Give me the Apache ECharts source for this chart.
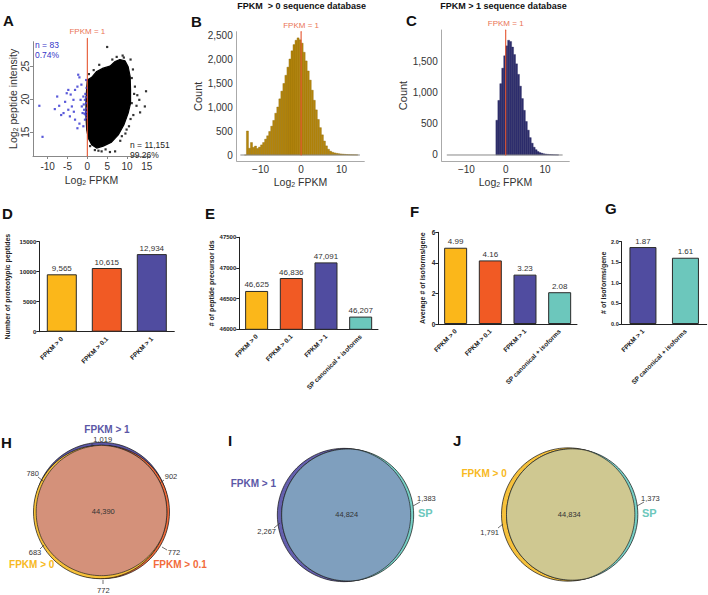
<!DOCTYPE html>
<html>
<head>
<meta charset="utf-8">
<script src="https://cdn.jsdelivr.net/npm/echarts@6/dist/echarts.min.js"></script>
<style>html,body{margin:0;padding:0;background:#fff}#main{width:708px;height:595px}</style>
</head>
<body>
<div id="main"></div>
<script>
// ---- A: scatter ----
var blueDots = [[-12.1,19.0],[-11.3,14.3],[-8.2,18.5],[-7.1,19.0],[-7.6,20.4],[-6.6,17.6],[-5.2,20.9],[-4.8,21.4],[-4.2,20.7],[-5.6,19.6],[-4.8,18.4],[-4.4,17.4],[-3.9,18.9],[-3.5,19.9],[-3.1,21.4],[-2.5,21.9],[-2.3,23.7],[-2.0,23.3],[-1.7,19.9],[-1.4,18.9],[-1.2,17.9],[-1.0,20.4],[-2.0,16.3],[-2.5,15.6],[-0.6,16.9],[-0.8,18.4],[-0.3,19.4],[-0.6,19.9],[-0.3,22.9],[-0.2,21.7],[-1.0,15.9],[-0.4,17.6],[-0.2,18.1],[-0.2,18.6],[-3.4,18.1],[-3.1,16.9],[-6.0,17.9],[-0.5,20.8],[-1.5,22.2],[-0.9,19.2],[-0.35,18.0],[-0.15,17.2],[-0.7,17.8],[-0.25,20.3]];
var blackDots = [[5.0,27.9],[7.8,25.5],[10.9,26.0],[11.2,23.2],[12.0,21.9],[13.1,19.9],[14.5,18.9],[14.8,21.2],[13.3,18.0],[12.6,20.6],[11.2,19.4],[11.6,17.6],[3.6,12.1],[5.7,12.0],[7.0,12.1],[1.9,12.3],[0.7,12.9],[9.9,15.4],[8.7,14.4],[9.2,26.3],[6.3,26.0],[10.5,15.9],[11.5,24.5],[11.8,20.8],[10.9,17.0],[8.9,26.6],[7.4,26.4],[3.0,25.2],[1.6,24.4],[0.4,23.8],[4.6,12.4],[2.8,12.2],[8.3,13.7],[9.6,14.8],[12.4,19.0]];
var cloudOutline = [[0,22.9],[1.1,23.3],[2.35,24.2],[4.0,24.7],[5.7,25.0],[7.0,25.7],[8.2,26.0],[9.5,25.8],[10.3,24.9],[10.8,23.4],[10.9,21.4],[10.9,19.4],[10.3,17.9],[9.2,16.1],[7.8,14.6],[6.1,13.5],[4.0,12.9],[2.35,12.6],[1.1,13.1],[0.25,14.1],[-0.17,15.4],[-0.34,17.4],[-0.34,19.9],[-0.17,21.7]];
var countBlue = 83, pctBlue = '0.74%';
var countBlack = 11151, pctBlack = '99.26%';

// ---- B, C: histograms (bin width 0.5) ----
var histBStart = -14, histBWidth = 0.5;
var histB = [0,500,140,260,160,185,135,165,210,260,330,400,490,600,720,870,1000,1170,1330,1490,1660,1830,2000,2170,2300,2390,2440,2400,2330,2140,1960,1750,1560,1350,1140,940,740,570,420,290,190,120,80,58,44,35,28,22,18,14,10,7,5,4,3,2];
var histCStart = -2.5, histCWidth = 0.5;
var histC = [560,880,1150,1400,1600,1760,1850,1830,1740,1620,1470,1300,1110,910,720,540,400,280,190,125,85,55,38,27,19,14,10,7,5,3,2,1];
var histRange = [-15, 14.5];

// ---- D-G: bars ----
var catD = ['FPKM > 0', 'FPKM > 0.1', 'FPKM > 1'];
var valD = [9565, 10615, 12934];
var catE = ['FPKM > 0', 'FPKM > 0.1', 'FPKM > 1', 'SP canonical + isoforms'];
var valE = [46625, 46836, 47091, 46207];
var catF = ['FPKM > 0', 'FPKM > 0.1', 'FPKM > 1', 'SP canonical + isoforms'];
var valF = [4.99, 4.16, 3.23, 2.08];
var catG = ['FPKM > 1', 'SP canonical + isoforms'];
var valG = [1.87, 1.61];
var dbColor = {'FPKM > 0':'#FBB71A', 'FPKM > 0.1':'#F15A24', 'FPKM > 1':'#504CA0', 'SP canonical + isoforms':'#6CC7BC'};

// ---- H-J: Venn circles [cx, cy, r] in units of the shared radius ----
var vennH = [[0,0.03,1.0],[0.02,-0.015,1.0],[-0.02,-0.015,1.0]];
var vennHColors = ['#5B57A6','#F26B3A','#F8C23A'];
var vennHCounts = [1019, 780, 902, 44390, 683, 772, 772];
var vennI = [[-0.03,0,1.0],[0.025,0,0.99]];
var vennIColors = ['#6560AE','#77D0C6'];
var vennICounts = [2267, 44824, 1383];
var vennJ = [[-0.035,0,1.0],[0.025,0,0.985]];
var vennJColors = ['#F6C13C','#77D0C6'];
var vennJCounts = [1791, 44834, 1373];

var FONT = 'Liberation Sans, Arial, sans-serif';
var RED = '#E5552F';
var fmt = function (v) { return Number(v).toLocaleString('en-US'); };
var minus = function (v) { return v < 0 ? '\u2212' + (-v) : '' + v; };
var chart = echarts.init(document.getElementById('main'), null, {renderer: 'svg'});

var grids = [
  {left: 33, top: 41.7, width: 117, height: 114.3},     // A
  {left: 236.7, top: 31.7, width: 127.6, height: 129.3},// B
  {left: 441.7, top: 30, width: 127.6, height: 131},    // C
  {left: 39.3, top: 241.7, width: 135, height: 90},     // D
  {left: 239.3, top: 237.3, width: 138.7, height: 92},  // E
  {left: 438.3, top: 232.3, width: 138.7, height: 91.7},// F
  {left: 621.7, top: 241.7, width: 85, height: 82.3},   // G
  {left: 21.5, top: 431, width: 160, height: 160},      // H
  {left: 266, top: 435, width: 160, height: 160},       // I
  {left: 490.5, top: 434.5, width: 160, height: 160}    // J
];
grids.forEach(function (g) { g.outerBoundsMode = 'none'; g.containLabel = false; });

var log2Rich = {n: {fontSize: 10.5, color: '#333', fontFamily: FONT}, s: {fontSize: 7, color: '#333', padding: [6, 0, 0, 0], fontFamily: FONT}};

var xAxes = [], yAxes = [], series = [];

// red FPKM = 1 guide, drawn as its own line series
function fpkmLine(gi, y0, y1) {
  series.push({type: 'line', xAxisIndex: gi, yAxisIndex: gi, clip: false, silent: true, z: 5,
    symbol: 'circle', symbolSize: 1, showSymbol: true, itemStyle: {color: RED},
    lineStyle: {color: RED, width: 1.1},
    data: [{value: [0, y0], label: {show: false}},
      {value: [0, y1], label: {show: true, position: 'top', distance: 2, formatter: 'FPKM = 1',
        color: '#EA7455', fontSize: 8, fontFamily: FONT}}]});
}

// A
xAxes.push({type: 'value', gridIndex: 0, min: -13.7, max: 15.8, splitLine: {show: false},
  axisLine: {onZero: false, lineStyle: {color: '#888'}}, axisTick: {customValues: [-10,-5,0,5,10,15], length: 3, lineStyle: {color: '#888'}},
  axisLabel: {customValues: [-10,-5,0,5,10,15], fontSize: 10, color: '#333', margin: 5, fontFamily: FONT},
  name: '{n|Log}{s|2}{n| FPKM}', nameLocation: 'middle', nameGap: 17, nameTextStyle: {rich: log2Rich}});
yAxes.push({type: 'value', gridIndex: 0, min: 11.4, max: 28.7, splitLine: {show: false},
  axisLine: {show: true, onZero: false, lineStyle: {color: '#888'}}, axisTick: {show: true, customValues: [15,20,25], length: 3, lineStyle: {color: '#888'}},
  axisLabel: {customValues: [15,20,25], rotate: 90, fontSize: 10, color: '#333', margin: 3, fontFamily: FONT},
  name: '{n|Log}{s|2}{n| peptide intensity}', nameLocation: 'middle', nameGap: 8, nameTextStyle: {rich: log2Rich}});
series.push({type: 'custom', xAxisIndex: 0, yAxisIndex: 0, data: [[5, 20]], silent: true,
  renderItem: function (p, api) {
    var pts = cloudOutline.map(function (d) { return api.coord(d); });
    return {type: 'polygon', shape: {points: pts}, style: {fill: '#000', stroke: '#000', lineWidth: 1.2, lineJoin: 'round'}};
  }});
series.push({type: 'scatter', xAxisIndex: 0, yAxisIndex: 0, data: blackDots, symbol: 'rect', symbolSize: 2.2, itemStyle: {color: '#000'}, silent: true});
series.push({type: 'scatter', xAxisIndex: 0, yAxisIndex: 0, data: blueDots, symbol: 'rect', symbolSize: 2.2, itemStyle: {color: '#2F2FD0'}, silent: true});
fpkmLine(0, 11.4, 29.2);

// B, C histograms
function histAxes(gi, yMax, yMin, yTicks, xMin, xMax, lblMargin, nameGap, yNameGap) {
  xAxes.push({type: 'value', gridIndex: gi, min: xMin, max: xMax, splitLine: {show: false},
    axisLine: {onZero: false, lineStyle: {color: '#aaa'}}, axisTick: {show: false},
    axisLabel: {customValues: [-10, 0, 10], formatter: minus, fontSize: 10, color: '#333', margin: lblMargin, fontFamily: FONT},
    name: '{n|Log}{s|2}{n| FPKM}', nameLocation: 'middle', nameGap: nameGap, nameTextStyle: {rich: log2Rich}});
  yAxes.push({type: 'value', gridIndex: gi, min: yMin, max: yMax, splitLine: {show: false},
    axisLine: {show: true, onZero: false, lineStyle: {color: '#aaa'}}, axisTick: {show: false},
    axisLabel: {customValues: yTicks, formatter: fmt, fontSize: 10, color: '#333', margin: 4, fontFamily: FONT},
    name: 'Count', nameLocation: 'middle', nameGap: yNameGap, nameTextStyle: {fontSize: 11, color: '#333', fontFamily: FONT}});
}
function histSeries(gi, counts, start, width, fill, stroke, lineTop) {
  var data = counts.map(function (c, i) { return [start + i * width, start + (i + 1) * width, c]; });
  series.push({type: 'line', xAxisIndex: gi, yAxisIndex: gi, data: [[histRange[0], 0], [histRange[1], 0]], symbol: 'none', silent: true,
    lineStyle: {color: '#888', width: 1}});
  series.push({type: 'custom', xAxisIndex: gi, yAxisIndex: gi, data: data, encode: {x: [0, 1], y: 2}, silent: true,
    renderItem: function (p, api) {
      var a = api.coord([api.value(0), api.value(2)]);
      var b = api.coord([api.value(1), 0]);
      return {type: 'rect', shape: {x: a[0], y: a[1], width: b[0] - a[0], height: b[1] - a[1]},
        style: {fill: fill, stroke: stroke, lineWidth: 0.4}};
    }});
  fpkmLine(gi, 0, lineTop);
}
histAxes(1, 2569, -125, [0, 500, 1000, 1500, 2000, 2500], -15.9, 15.6, 3, 14, 26);
histSeries(1, histB, histBStart, histBWidth, '#B7870C', '#8E6A08', 2569);
histAxes(2, 2016, -97, [0, 500, 1000, 1500], -16.3, 16.2, 3, 14, 30);
histSeries(2, histC, histCStart, histCWidth, '#2F2F6E', '#24245A', 2016);

// D-G bars
function barPanel(gi, cats, vals, yMin, yMax, yInt, yName, nameGap, barW, valFmt, tickFmt, tickSize) {
  xAxes.push({type: 'category', gridIndex: gi, data: cats,
    axisLine: {lineStyle: {color: '#222', width: 1}}, axisTick: {alignWithLabel: true, length: 3, lineStyle: {color: '#222'}},
    axisLabel: {rotate: 45, interval: 0, fontSize: 6.5, fontWeight: 'bold', color: '#222', margin: 6, fontFamily: FONT}});
  yAxes.push({type: 'value', gridIndex: gi, min: yMin, max: yMax, interval: yInt, splitLine: {show: false},
    axisLine: {show: true, lineStyle: {color: '#222', width: 1}}, axisTick: {show: true, length: 3, lineStyle: {color: '#222'}},
    axisLabel: {fontSize: tickSize, fontWeight: 'bold', color: '#222', margin: 3, formatter: tickFmt, fontFamily: FONT},
    name: yName, nameLocation: 'middle', nameGap: nameGap, nameTextStyle: {fontSize: 7, fontWeight: 'bold', color: '#222', fontFamily: FONT}});
  series.push({type: 'bar', xAxisIndex: gi, yAxisIndex: gi, barWidth: barW, silent: true,
    data: vals.map(function (v, i) { return {value: v, itemStyle: {color: dbColor[cats[i]]}}; }),
    itemStyle: {borderColor: '#2a2a2a', borderWidth: 1},
    label: {show: true, position: 'top', distance: 2, fontSize: 8, color: '#333', fontFamily: FONT,
      formatter: function (p) { return valFmt(p.value); }}});
}
barPanel(3, catD, valD, 0, 15000, 5000, 'Number of proteotypic peptides', 28, 30, fmt, function (v) { return '' + v; }, 6);
barPanel(4, catE, valE, 46000, 47500, 500, '# of peptide precursor ids', 24, 23, fmt, function (v) { return '' + v; }, 6);
barPanel(5, catF, valF, 0, 6, 2, 'Average # of isoforms/gene', 12, 23, function (v) { return v.toFixed(2); }, function (v) { return '' + v; }, 6.5);
barPanel(6, catG, valG, 0, 2, 0.5, '# of isoforms/gene', 6, 27, function (v) { return v.toFixed(2); }, function (v) { return v.toFixed(1); }, 5.5);

// H-J Venn
function interPoly(circles) {
  var px = 0, py = 0;
  circles.forEach(function (c) { px += c[0] / circles.length; py += c[1] / circles.length; });
  var pts = [];
  for (var a = 0; a < 360; a += 2) {
    var dx = Math.cos(a * Math.PI / 180), dy = Math.sin(a * Math.PI / 180), t = Infinity;
    circles.forEach(function (c) {
      var ox = px - c[0], oy = py - c[1], b = dx * ox + dy * oy;
      var tt = -b + Math.sqrt(b * b - (ox * ox + oy * oy - c[2] * c[2]));
      if (tt < t) t = tt;
    });
    pts.push([px + t * dx, py + t * dy]);
  }
  return pts;
}
function vennPanel(gi, circles, colors, fill) {
  xAxes.push({type: 'value', gridIndex: gi, min: -1.2, max: 1.2, show: false});
  yAxes.push({type: 'value', gridIndex: gi, min: -1.2, max: 1.2, show: false});
  series.push({type: 'custom', xAxisIndex: gi, yAxisIndex: gi, data: circles, clip: false, silent: true, z: 1,
    renderItem: function (p, api) {
      var c = api.coord([api.value(0), api.value(1)]);
      var r = api.size([api.value(2), 0])[0];
      return {type: 'circle', shape: {cx: c[0], cy: c[1], r: r}, style: {fill: colors[p.dataIndex], stroke: '#111', lineWidth: 0.7}};
    }});
  var poly = interPoly(circles);
  series.push({type: 'custom', xAxisIndex: gi, yAxisIndex: gi, data: [[0, 0]], clip: false, silent: true, z: 1,
    renderItem: function (p, api) {
      return {type: 'polygon', shape: {points: poly.map(function (d) { return api.coord(d); })},
        style: {fill: fill, stroke: '#222', lineWidth: 0.7}};
    }});
}
vennPanel(7, vennH, vennHColors, '#D4917A');
vennPanel(8, vennI, vennIColors, '#7F9FBE');
vennPanel(9, vennJ, vennJColors, '#CFC891');

// text
function txt(x, y, s, opt) {
  opt = opt || {};
  return {type: 'text', x: x, y: y, z: 100, silent: true, style: {text: s, fill: opt.color || '#333',
    font: (opt.bold ? 'bold ' : '') + (opt.size || 8) + 'px ' + FONT, align: opt.align || 'center', verticalAlign: 'middle'}};
}
function seg(x1, y1, x2, y2) {
  return {type: 'line', z: 100, silent: true, shape: {x1: x1, y1: y1, x2: x2, y2: y2}, style: {stroke: '#333', lineWidth: 0.7}};
}
var L = {bold: true, size: 15, color: '#111', align: 'left'};
var graphic = [
  txt(3, 20, 'A', L), txt(191, 21, 'B', L), txt(406, 20, 'C', L),
  txt(2, 213, 'D', L), txt(205, 213, 'E', L), txt(410, 211, 'F', L), txt(605, 208, 'G', L),
  txt(1, 442, 'H', L), txt(228, 440, 'I', L), txt(453, 440, 'J', L),
  txt(301.7, 6, 'FPKM  > 0 sequence database', {bold: true, size: 9, color: '#111'}),
  txt(503.5, 6, 'FPKM > 1 sequence database', {bold: true, size: 9, color: '#111'}),
  txt(35, 45, 'n = ' + countBlue, {size: 8.5, color: '#3434C8', align: 'left'}),
  txt(35, 54.5, pctBlue, {size: 8.5, color: '#3434C8', align: 'left'}),
  txt(130, 145, 'n = ' + fmt(countBlack), {size: 8.5, color: '#222', align: 'left'}),
  txt(130, 154.5, pctBlack, {size: 8.5, color: '#222', align: 'left'}),
  // H
  txt(107, 429, 'FPKM > 1', {bold: true, size: 10, color: '#5B57A6'}),
  txt(102.7, 439, fmt(vennHCounts[0]), {size: 7.5}), seg(92, 443, 92, 447),
  txt(32.7, 473.3, fmt(vennHCounts[1]), {size: 7.5}), seg(38, 477, 43, 481),
  txt(171, 476.7, fmt(vennHCounts[2]), {size: 7.5}), seg(164, 480, 160, 483),
  txt(103.3, 511.7, fmt(vennHCounts[3]), {size: 7.5}),
  txt(35, 552.7, fmt(vennHCounts[4]), {size: 7.5}), seg(40, 549, 44, 545),
  txt(31.7, 564, 'FPKM > 0', {bold: true, size: 10, color: '#F7B922'}),
  txt(174, 552.7, fmt(vennHCounts[5]), {size: 7.5}), seg(167, 550, 162, 547),
  txt(180, 564, 'FPKM > 0.1', {bold: true, size: 10, color: '#F26B3A'}),
  txt(103.3, 590, fmt(vennHCounts[6]), {size: 7.5}), seg(103, 584, 103, 580),
  // I
  txt(276, 483.3, 'FPKM > 1', {bold: true, size: 10, color: '#5B57A6', align: 'right'}),
  txt(276, 531.7, fmt(vennICounts[0]), {size: 7.5, align: 'right'}), seg(274, 528, 280, 523),
  txt(346.7, 514.3, fmt(vennICounts[1]), {size: 7.5}),
  txt(417, 498.3, fmt(vennICounts[2]), {size: 7.5, align: 'left'}), seg(420, 502, 413, 506),
  txt(418, 513.3, 'SP', {bold: true, size: 11, color: '#6CC7BC', align: 'left'}),
  // J
  txt(506.7, 473.3, 'FPKM > 0', {bold: true, size: 10, color: '#F7B922', align: 'right'}),
  txt(499, 532.3, fmt(vennJCounts[0]), {size: 7.5, align: 'right'}), seg(498, 528, 503, 524),
  txt(569.3, 514.3, fmt(vennJCounts[1]), {size: 7.5}),
  txt(641, 498.3, fmt(vennJCounts[2]), {size: 7.5, align: 'left'}), seg(644, 502, 637, 506),
  txt(642, 513.3, 'SP', {bold: true, size: 11, color: '#6CC7BC', align: 'left'})
];

chart.setOption({
  backgroundColor: '#fff',
  animation: false,
  textStyle: {fontFamily: FONT},
  grid: grids,
  xAxis: xAxes,
  yAxis: yAxes,
  series: series,
  graphic: graphic
});
</script>
</body>
</html>
